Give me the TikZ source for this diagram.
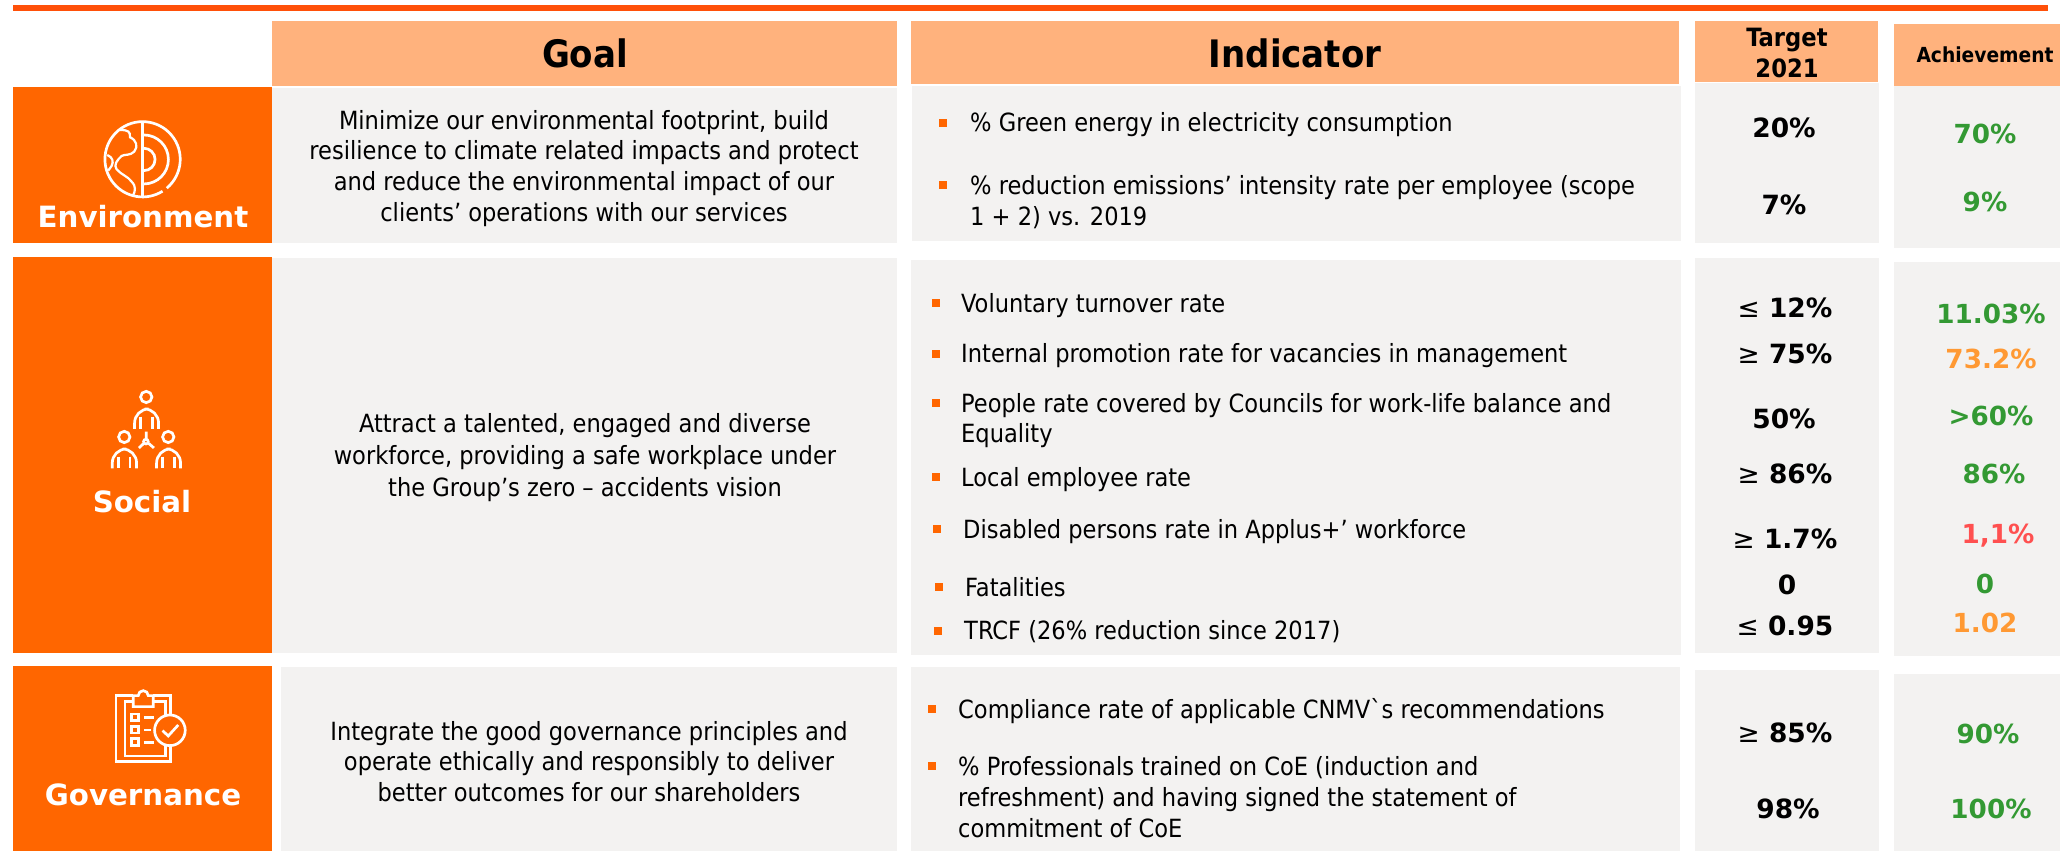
\documentclass[tikz,border=0pt]{standalone}
\usepackage{fontspec}
\setmainfont{DejaVu Sans Condensed}
\newfontfamily\valfont{DejaVu Sans}
\newfontfamily\plainfont{DejaVu Sans Condensed}
\definecolor{brandorange}{HTML}{FF6600}
\definecolor{topbar}{HTML}{FF5009}
\definecolor{headfill}{HTML}{FFB27D}
\definecolor{cellfill}{HTML}{F3F2F1}
\definecolor{okgreen}{HTML}{339933}
\definecolor{warnorange}{HTML}{FF9933}
\definecolor{badred}{HTML}{FF5050}
\newcommand{\bodyfs}{\fontsize{21.4}{26}\selectfont}
\tikzset{
  bodytext/.style={anchor=base west,inner sep=0pt,font=\bodyfs,text=black},
  goaltext/.style={anchor=base,inner sep=0pt,font=\bodyfs,text=black},
  bulletmark/.style={fill=brandorange},
  targetval/.style={anchor=base,inner sep=0pt,font=\valfont\fontsize{22.6}{26}\selectfont\bfseries,text=black},
  achval/.style={anchor=base,inner sep=0pt,font=\valfont\fontsize{22.4}{26}\selectfont\bfseries},
  rowlabel/.style={anchor=base,inner sep=0pt,font=\valfont\fontsize{25}{30}\selectfont\bfseries,text=white},
  headlabel/.style={anchor=base,inner sep=0pt,font=\fontsize{32.3}{38}\selectfont\bfseries,text=black},
  iconline/.style={draw=white,line width=2.3pt,fill=none},
}
\newcommand{\bul}[2]{\fill[bulletmark] (#1-4,#2-4) rectangle (#1+4,#2+4);}
\begin{document}
\begin{tikzpicture}[x=0.03cm,y=-0.03cm]
\useasboundingbox (0,0) rectangle (2060,851);
\fill[white] (0,0) rectangle (2060,851);
\fill[topbar] (13,5) rectangle (2048,11);
% headers
\fill[headfill] (272,21) rectangle (897,86);
\fill[headfill] (911,21) rectangle (1679,84);
\fill[headfill] (1695,21) rectangle (1878,82);
\fill[headfill] (1894,24) rectangle (2060,86);
% row 1
\fill[brandorange] (13,87) rectangle (272,243);
\fill[cellfill] (272,88) rectangle (897,243);
\fill[cellfill] (912,86) rectangle (1681,241);
\fill[cellfill] (1695,83) rectangle (1879,243);
\fill[cellfill] (1894,86) rectangle (2060,248);
% row 2
\fill[brandorange] (13,257) rectangle (272,653);
\fill[cellfill] (272,258) rectangle (897,653);
\fill[cellfill] (911,260) rectangle (1681,655);
\fill[cellfill] (1695,258) rectangle (1879,653);
\fill[cellfill] (1894,262) rectangle (2060,656);
% row 3
\fill[brandorange] (13,666) rectangle (272,851);
\fill[cellfill] (281,667) rectangle (897,851);
\fill[cellfill] (911,667) rectangle (1680,851);
\fill[cellfill] (1695,670) rectangle (1879,851);
\fill[cellfill] (1894,674) rectangle (2060,851);
% header labels
\node[headlabel] (hgoal) at (585,68) {Goal};
\node[headlabel] (hind) at (1295,68) {Indicator};
\node[anchor=base,inner sep=0pt,font=\fontsize{21.5}{26}\selectfont\bfseries] (htar1) at (1787,47) {Target};
\node[anchor=base,inner sep=0pt,font=\fontsize{21.5}{26}\selectfont\bfseries] (htar2) at (1787,78) {2021};
\node[anchor=base,inner sep=0pt,font=\fontsize{17.7}{20}\selectfont\bfseries] (hach) at (1985,63) {Achievement};
% row labels
\node[rowlabel] (renv) at (143,228) {Environment};
\node[rowlabel] (rsoc) at (142,512) {Social};
\node[rowlabel] (rgov) at (143,805) {Governance};
% goals
\node[goaltext] (g1a) at (584,130) {Minimize our environmental footprint, build};
\node[goaltext] (g1b) at (584,160) {resilience to climate related impacts and protect};
\node[goaltext] (g1c) at (584,191) {and reduce the environmental impact of our};
\node[goaltext] (g1d) at (584,222) {clients’ operations with our services};
\node[goaltext] (g2a) at (585,433) {Attract a talented, engaged and diverse};
\node[goaltext] (g2b) at (585,464) {workforce, providing a safe workplace under};
\node[goaltext] (g2c) at (585,496) {the Group’s zero – accidents vision};
\node[goaltext] (g3a) at (589,740) {Integrate the good governance principles and};
\node[goaltext] (g3b) at (589,770) {operate ethically and responsibly to deliver};
\node[goaltext] (g3c) at (589,801) {better outcomes for our shareholders};
% indicators
\bul{943}{123}\node[bodytext] (i1) at (970,132) {\% Green energy in electricity consumption};
\bul{943}{185}\node[bodytext] (i2) at (970,195) {\% reduction emissions’ intensity rate per employee (scope};
\node[bodytext] (i2b) at (970,226) {1 + 2) vs. 2019};
\bul{936}{303}\node[bodytext] (i3) at (961,313) {Voluntary turnover rate};
\bul{936}{354}\node[bodytext] (i4) at (961,363) {Internal promotion rate for vacancies in management};
\bul{936}{403}\node[bodytext] (i5) at (961,412) {People rate covered by Councils for work-life balance and};
\node[bodytext] (i5b) at (961,442) {Equality};
\bul{936}{477}\node[bodytext] (i6) at (961,486) {Local employee rate};
\bul{937}{529}\node[bodytext] (i7) at (963,538) {Disabled persons rate in Applus+’ workforce};
\bul{939}{587}\node[bodytext] (i8) at (965,596) {Fatalities};
\bul{938}{631}\node[bodytext] (i9) at (964,639) {TRCF (26\% reduction since 2017)};
\bul{932}{709}\node[bodytext] (i10) at (958,718) {Compliance rate of applicable CNMV{\plainfont `}s recommendations};
\bul{932}{766}\node[bodytext] (i11) at (958,775) {\% Professionals trained on CoE (induction and};
\node[bodytext] (i11b) at (958,806) {refreshment) and having signed the statement of};
\node[bodytext] (i11c) at (958,837) {commitment of CoE};
% targets
\node[targetval] (t1) at (1784,138) {20\%};
\node[targetval] (t2) at (1784,215) {7\%};
\node[targetval] (t3) at (1785,318) {{\mdseries ≤} 12\%};
\node[targetval] (t4) at (1785,364) {{\mdseries ≥} 75\%};
\node[targetval] (t5) at (1784,428) {50\%};
\node[targetval] (t6) at (1785,483) {{\mdseries ≥} 86\%};
\node[targetval] (t7) at (1785,548) {{\mdseries ≥} 1.7\%};
\node[targetval] (t8) at (1787,594) {0};
\node[targetval] (t9) at (1785,635) {{\mdseries ≤} 0.95};
\node[targetval] (t10) at (1785,742) {{\mdseries ≥} 85\%};
\node[targetval] (t11) at (1788,818) {98\%};
% achievements
\node[achval,text=okgreen] (a1) at (1985,144) {70\%};
\node[achval,text=okgreen] (a2) at (1985,212) {9\%};
\node[achval,text=okgreen] (a3) at (1991,324) {11.03\%};
\node[achval,text=warnorange] (a4) at (1991,369) {73.2\%};
\node[achval,text=okgreen] (a5) at (1991,425) {>60\%};
\node[achval,text=okgreen] (a6) at (1994,483) {86\%};
\node[achval,text=badred] (a7) at (1998,543) {1,1\%};
\node[achval,text=okgreen] (a8) at (1985,593) {0};
\node[achval,text=warnorange] (a9) at (1985,632) {1.02};
\node[achval,text=okgreen] (a10) at (1988,743) {90\%};
\node[achval,text=okgreen] (a11) at (1991,818) {100\%};
% environment icon
\begin{scope}[shift={(0,80)},x=0.01cm,y=-0.01cm]
\draw[iconline] (428,238) ++(50:113) arc[start angle=50,end angle=-302,radius=113];
\draw[iconline] (428,122) -- (428,355);
\draw[iconline] (432,165) arc[start angle=-90,end angle=90,radius=73.5];
\draw[iconline] (432,205) arc[start angle=-90,end angle=90,radius=33.5];
\draw[iconline,line width=1.9pt,line join=round] (360,150) .. controls (385,150) and (392,155) .. (390,172) .. controls (410,180) and (415,200) .. (403,215) .. controls (390,228) and (375,222) .. (365,228) .. controls (352,240) and (340,255) .. (350,268) .. controls (365,285) and (385,290) .. (395,305) .. controls (410,320) and (405,335) .. (400,345);
\draw[iconline,line width=1.9pt,line join=round] (322,225) .. controls (338,232) and (342,245) .. (335,258) -- (325,272);
\end{scope}
% social icon
\begin{scope}[shift={(0,370)},x=0.01cm,y=-0.01cm]
\foreach \hx/\hy/\bl/\br/\bt/\lb/\la/\lc in {439/81/404/476/117/177/422/457, 373/201/337/410/237/295/355/390, 505/201/470/542/237/295/488/523}{
 \draw[iconline] (\hx,\hy) circle[radius=17];
 \draw[iconline,rounded corners=12] (\bl,\lb) -- (\bl,\bt) -- (\br,\bt) -- (\br,\lb);
 \draw[iconline] (\la,\bt+23) -- (\la,\lb) (\lc,\bt+23) -- (\lc,\lb);
}
\draw[iconline] (439,185) -- (439,208) (432,220) -- (417,234) (446,220) -- (462,234);
\draw[iconline] (438,215) circle[radius=7];
\end{scope}
% governance icon
\begin{scope}[shift={(0,660)},x=0.01cm,y=-0.01cm]
\draw[iconline] (400,107) -- (348,107) -- (348,305) -- (512,305) -- (512,262) (512,165) -- (512,107) -- (460,107);
\draw[iconline] (400,125) -- (375,125) -- (375,288) -- (497,288) -- (497,258) (497,165) -- (497,125) -- (460,125);
\draw[iconline] (400,107) -- (400,140) -- (460,140) -- (460,107) -- (445,107) arc[start angle=0,end angle=-180,radius=15] -- cycle;
\draw[iconline] (395,162) rectangle (415,182) (395,199) rectangle (415,219) (395,236) rectangle (415,256);
\draw[iconline] (432,173) -- (461,173) (432,210) -- (452,210) (432,248) -- (461,248);
\draw[iconline] (510,211) circle[radius=46];
\draw[iconline] (488,212) -- (505,228) -- (535,195);
\end{scope}
\end{tikzpicture}
\end{document}
